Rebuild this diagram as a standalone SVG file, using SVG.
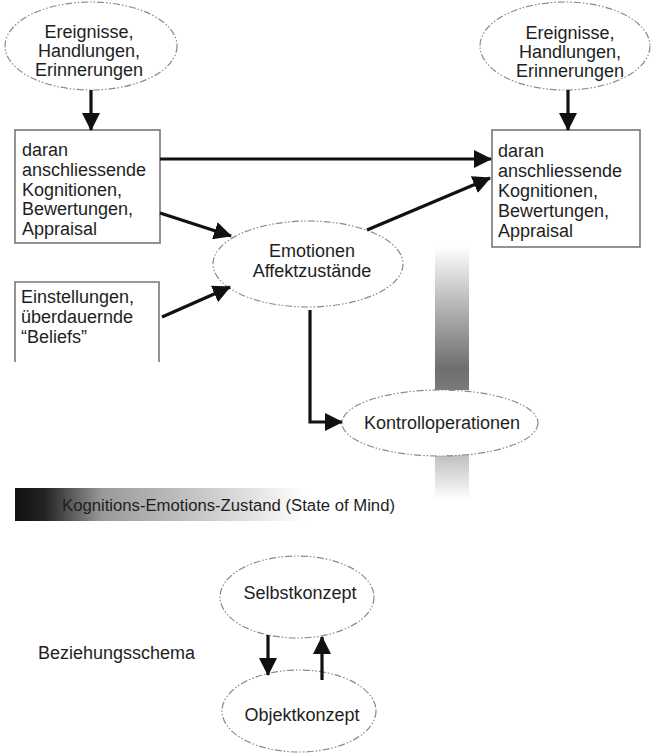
<svg xmlns="http://www.w3.org/2000/svg" width="651" height="756" viewBox="0 0 651 756">
<defs>
<style>
text{font-family:"Liberation Sans",Arial,sans-serif;font-size:18px;fill:#1e1e1e}
.c{text-anchor:middle}
.ell{fill:#fff;stroke:#8a8a8a;stroke-width:1.2;stroke-dasharray:7 2 1.5 2 1.5 2}
.box{fill:#fff;stroke:#777;stroke-width:1.6}
.arr{fill:none;stroke:#111;stroke-width:3.2;marker-end:url(#ah)}
</style>
<marker id="ah" viewBox="0 0 18 18" refX="17" refY="9" markerWidth="18" markerHeight="18" markerUnits="userSpaceOnUse" orient="auto">
<path d="M0,0 L18,9 L0,18 z" fill="#111"/>
</marker>
<linearGradient id="gv" x1="0" y1="0" x2="0" y2="1">
<stop offset="0" stop-color="#fff"/>
<stop offset="0.3" stop-color="#c8c8c8"/>
<stop offset="0.85" stop-color="#6e6e6e"/>
<stop offset="1" stop-color="#7a7a7a"/>
</linearGradient>
<linearGradient id="gv2" x1="0" y1="0" x2="0" y2="1">
<stop offset="0" stop-color="#b8b8b8"/>
<stop offset="1" stop-color="#fff"/>
</linearGradient>
<linearGradient id="gh" x1="0" y1="0" x2="1" y2="0">
<stop offset="0" stop-color="#111"/>
<stop offset="0.1" stop-color="#222"/>
<stop offset="0.3" stop-color="#999"/>
<stop offset="0.7" stop-color="#d0d0d0"/>
<stop offset="1" stop-color="#fff"/>
</linearGradient>
</defs>
<rect width="651" height="756" fill="#fff"/>
<g id="bars">
<rect x="435" y="247" width="34" height="143" fill="url(#gv)"/>
<rect x="435" y="450" width="34" height="50" fill="url(#gv2)"/>
<rect x="15" y="488" width="290" height="33" fill="url(#gh)"/>
<text x="62" y="511" style="font-size:16.7px">Kognitions-Emotions-Zustand (State of Mind)</text>
</g>
<g id="ereignisse-left">
<ellipse class="ell" cx="91" cy="46" rx="86" ry="44"/>
<text class="c" x="89" y="38">Ereignisse,</text>
<text class="c" x="89" y="57">Handlungen,</text>
<text class="c" x="89" y="76">Erinnerungen</text>
</g>
<g id="ereignisse-right">
<ellipse class="ell" cx="565" cy="46" rx="85" ry="44"/>
<text class="c" x="570" y="39">Ereignisse,</text>
<text class="c" x="570" y="58">Handlungen,</text>
<text class="c" x="570" y="77">Erinnerungen</text>
</g>
<g id="kognitionen-left">
<rect class="box" x="15" y="130" width="145" height="113"/>
<text x="22" y="156">daran</text>
<text x="22" y="176">anschliessende</text>
<text x="22" y="196">Kognitionen,</text>
<text x="22" y="215">Bewertungen,</text>
<text x="22" y="235">Appraisal</text>
</g>
<g id="kognitionen-right">
<rect class="box" x="492" y="130" width="148" height="117"/>
<text x="498" y="157">daran</text>
<text x="498" y="177">anschliessende</text>
<text x="498" y="197">Kognitionen,</text>
<text x="498" y="217">Bewertungen,</text>
<text x="498" y="237">Appraisal</text>
</g>
<g id="einstellungen">
<path d="M15,362 V282 H159 V362" fill="none" stroke="#777" stroke-width="1.6"/>
<text x="21" y="303">Einstellungen,</text>
<text x="21" y="323">überdauernde</text>
<text x="21" y="343">“Beliefs”</text>
</g>
<g id="emotionen">
<ellipse class="ell" cx="308" cy="264" rx="95" ry="43"/>
<text class="c" x="312" y="257">Emotionen</text>
<text class="c" x="312" y="277">Affektzustände</text>
</g>
<g id="kontrolloperationen">
<ellipse class="ell" cx="440" cy="423" rx="98" ry="33"/>
<text class="c" x="442" y="429">Kontrolloperationen</text>
</g>
<g id="selbstkonzept">
<ellipse class="ell" cx="297" cy="597" rx="77" ry="41"/>
<text class="c" x="300" y="599">Selbstkonzept</text>
</g>
<g id="objektkonzept">
<ellipse class="ell" cx="299" cy="711" rx="77" ry="41"/>
<text class="c" x="302" y="721">Objektkonzept</text>
</g>
<g id="beziehungsschema">
<text x="38" y="659">Beziehungsschema</text>
</g>
<g id="connectors">
<line class="arr" x1="91" y1="90" x2="91" y2="130"/>
<line class="arr" x1="568" y1="90" x2="568" y2="130"/>
<line class="arr" x1="160" y1="159" x2="491" y2="159"/>
<line class="arr" x1="160" y1="213" x2="231" y2="236"/>
<line class="arr" x1="162" y1="317" x2="230" y2="287"/>
<line class="arr" x1="367" y1="230" x2="490" y2="178"/>
<polyline class="arr" stroke-width="2.6" points="310,310 310,422 342,422"/>
<line class="arr" x1="268" y1="635" x2="268" y2="675"/>
<line class="arr" x1="322" y1="680" x2="322" y2="637"/>
</g>
</svg>
